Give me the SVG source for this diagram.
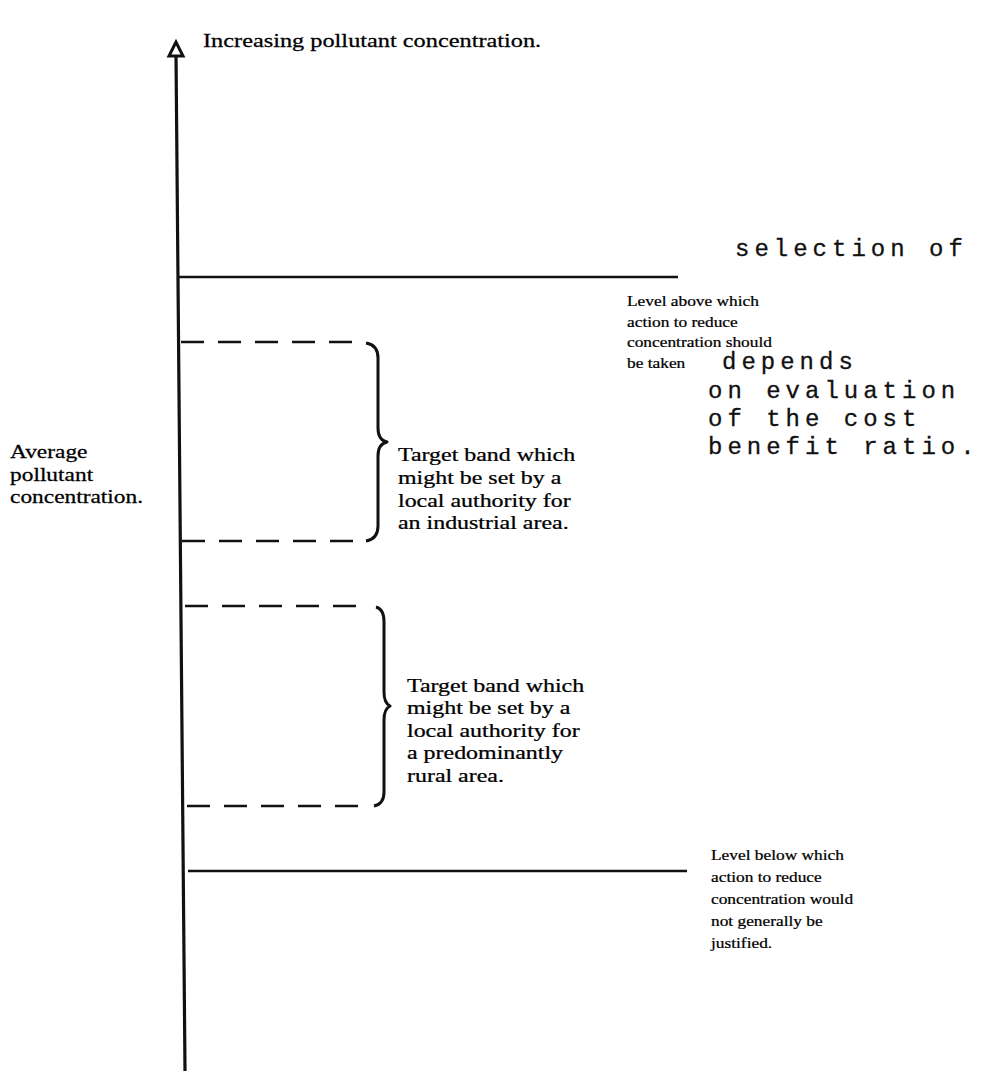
<svg xmlns="http://www.w3.org/2000/svg" width="981" height="1071" viewBox="0 0 981 1071">
<style>
.t{font-family:"Liberation Serif","Times New Roman",serif;font-size:18px;fill:#000;stroke:#000;stroke-width:0.25;}
.s{font-family:"Liberation Serif","Times New Roman",serif;font-size:15.5px;fill:#000;stroke:#000;stroke-width:0.25;}
.m{font-family:"Liberation Mono","Courier New",monospace;font-size:24px;letter-spacing:5px;fill:#111;stroke:#111;stroke-width:0.3;}
.ln{stroke:#111;stroke-width:2.6;fill:none;stroke-linecap:butt;}
.dash{stroke:#111;stroke-width:2.6;fill:none;stroke-dasharray:23 14;}
.brace{stroke:#111;stroke-width:3;fill:none;stroke-linejoin:round;}
</style>
<rect width="981" height="1071" fill="#fff"/>

<g id="axis">
  <line class="ln" x1="176" y1="54" x2="185" y2="1071" style="stroke-width:3.2"/>
  <polygon points="176,42 169,56 183,56" fill="#fff" stroke="#111" stroke-width="3" stroke-linejoin="miter"/>
  <g transform="translate(203,47) scale(1.28,1)"><text class="t" style="font-size:19px" x="0" y="0">Increasing pollutant concentration.</text></g>
</g>

<g id="y-label">
  <g transform="translate(10,0) scale(1.3,1)">
    <text class="t" x="0" y="458">Average</text>
    <text class="t" x="0" y="481">pollutant</text>
    <text class="t" x="0" y="503">concentration.</text>
  </g>
</g>

<g id="connectors">
  <line class="ln" x1="179" y1="277" x2="678" y2="277"/>
  <line class="ln" x1="188" y1="871" x2="687" y2="871"/>
  <line class="dash" x1="181" y1="342" x2="352" y2="342"/>
  <line class="dash" x1="182" y1="541" x2="362" y2="541"/>
  <line class="dash" x1="185" y1="606" x2="364" y2="606"/>
  <line class="dash" x1="187" y1="806" x2="368" y2="806"/>
  <path class="brace" d="M366,343 Q378,345 378,358 L378,428 Q378,440 387,442 Q378,444 378,456 L378,526 Q378,539 366,541"/>
  <path class="brace" d="M376,607 Q384,609 384,622 L384,692 Q384,703 390,706 Q384,709 384,720 L384,792 Q384,804 374,806"/>
</g>

<g id="upper-level">
  <g transform="translate(627,0) scale(1.12,1)">
    <text class="s" x="0" y="306">Level above which</text>
    <text class="s" x="0" y="327">action to reduce</text>
    <text class="s" x="0" y="347">concentration should</text>
    <text class="s" x="0" y="368">be taken</text>
  </g>
</g>

<g id="cost-benefit-note">
  <text class="m" x="735" y="256">selection of</text>
  <text class="m" x="722" y="369">depends</text>
  <text class="m" x="708" y="398">on evaluation</text>
  <text class="m" x="708" y="426">of the cost</text>
  <text class="m" x="708" y="454">benefit ratio.</text>
</g>

<g id="industrial-band">
  <g transform="translate(398,0) scale(1.33,1)">
    <text class="t" x="0" y="461">Target band which</text>
    <text class="t" x="0" y="484">might be set by a</text>
    <text class="t" x="0" y="507">local authority for</text>
    <text class="t" x="0" y="529">an industrial area.</text>
  </g>
</g>

<g id="rural-band">
  <g transform="translate(407,0) scale(1.33,1)">
    <text class="t" x="0" y="692">Target band which</text>
    <text class="t" x="0" y="714">might be set by a</text>
    <text class="t" x="0" y="737">local authority for</text>
    <text class="t" x="0" y="759">a predominantly</text>
    <text class="t" x="0" y="782">rural area.</text>
  </g>
</g>

<g id="lower-level">
  <g transform="translate(711,0) scale(1.12,1)">
    <text class="s" x="0" y="860">Level below which</text>
    <text class="s" x="0" y="882">action to reduce</text>
    <text class="s" x="0" y="904">concentration would</text>
    <text class="s" x="0" y="926">not generally be</text>
    <text class="s" x="0" y="948">justified.</text>
  </g>
</g>
</svg>
